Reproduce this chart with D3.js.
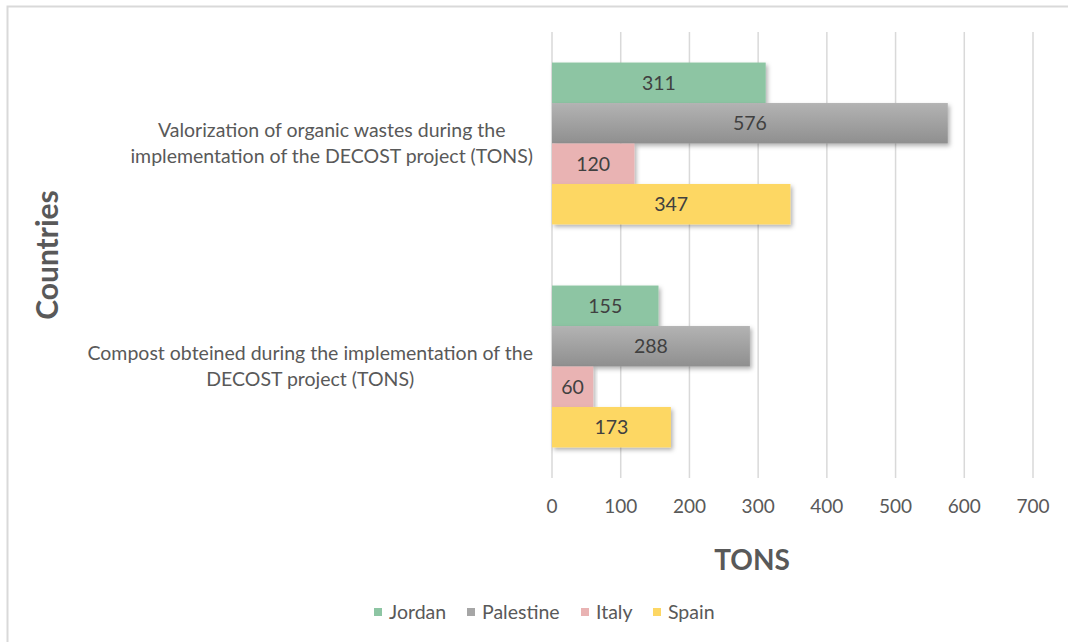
<!DOCTYPE html>
<html>
<head>
<meta charset="utf-8">
<script src="https://cdn.jsdelivr.net/npm/d3@7"></script>
<style>
  html, body { margin: 0; padding: 0; background: #fff; }
  svg { display: block; font-family: "Lato", "Open Sans", sans-serif; }
</style>
</head>
<body>
<svg id="chart" width="1068" height="642"></svg>
<script>
// Categories (top to bottom) with their wrapped label lines
const categories = [
  "Valorization of organic wastes during the implementation of the DECOST project (TONS)",
  "Compost obteined during the implementation of the DECOST project (TONS)"
];
const categoryLines = [
  ["Valorization of organic wastes during the", "implementation of the DECOST project (TONS)"],
  ["Compost obteined during the implementation of the", "DECOST project (TONS)"]
];
const seriesNames = ["Jordan", "Palestine", "Italy", "Spain"];
const jordan    = [311, 155];
const palestine = [576, 288];
const italy     = [120, 60];
const spain     = [347, 173];
const tickValues = [0, 100, 200, 300, 400, 500, 600, 700];

const seriesValues = [jordan, palestine, italy, spain];
const colors = ["#8dc5a3", "url(#grayGrad)", "#e9b3b3", "#fdd764"];
const legendColors = ["#8dc5a3", "#a6a6a6", "#e9b3b3", "#fdd764"];

const svg = d3.select("#chart");
const defs = svg.append("defs");

const shadow = defs.append("filter").attr("id", "shadow")
  .attr("x", "-5%").attr("y", "-20%").attr("width", "115%").attr("height", "150%");
shadow.append("feDropShadow").attr("dx", 2).attr("dy", 2.5)
  .attr("stdDeviation", 2).attr("flood-color", "#000").attr("flood-opacity", 0.3);

const grad = defs.append("linearGradient").attr("id", "grayGrad")
  .attr("x1", 0).attr("y1", 0).attr("x2", 0).attr("y2", 1);
grad.append("stop").attr("offset", "0%").attr("stop-color", "#b3b3b3");
grad.append("stop").attr("offset", "100%").attr("stop-color", "#8f8f8f");

// Outer frame (top and left edges visible)
svg.append("path")
  .attr("d", "M7.5,642 L7.5,6.5 L1068,6.5")
  .attr("fill", "none").attr("stroke", "#d9d9d9").attr("stroke-width", 2);

const plot = { left: 552, right: 1033, top: 32, bottom: 478 };

const x = d3.scaleLinear().domain([0, 700]).range([plot.left, plot.right]);
const y0 = d3.scaleBand().domain(categories).range([plot.top, plot.bottom])
  .paddingInner(0.274).paddingOuter(0.137);
const y1 = d3.scaleBand().domain(seriesNames).range([0, y0.bandwidth()]);

// Vertical gridlines
svg.append("g").selectAll("line").data(tickValues).join("line")
  .attr("x1", d => x(d)).attr("x2", d => x(d))
  .attr("y1", plot.top).attr("y2", plot.bottom)
  .attr("stroke", "#d9d9d9").attr("stroke-width", 1.5);

// Bars
const groups = svg.append("g").selectAll("g").data(categories).join("g")
  .attr("transform", c => `translate(0,${y0(c)})`);

seriesNames.forEach((s, si) => {
  groups.append("rect")
    .attr("x", x(0))
    .attr("y", y1(s))
    .attr("width", (c, ci) => x(seriesValues[si][ci]) - x(0))
    .attr("height", y1.bandwidth())
    .attr("fill", colors[si])
    .attr("filter", "url(#shadow)");
});

// Value labels centred in bars
seriesNames.forEach((s, si) => {
  groups.append("text")
    .attr("x", (c, ci) => (x(0) + x(seriesValues[si][ci])) / 2)
    .attr("y", y1(s) + y1.bandwidth() / 2)
    .attr("dy", "0.35em")
    .attr("text-anchor", "middle")
    .attr("font-size", 19.5)
    .attr("fill", "#404040")
    .text((c, ci) => seriesValues[si][ci]);
});

// Category labels, block right-aligned against the axis, lines centred
const catG = svg.append("g");
categories.forEach((c, ci) => {
  const lines = categoryLines[ci];
  const t = catG.append("text")
    .attr("font-size", 19.5).attr("fill", "#595959").attr("text-anchor", "middle");
  lines.forEach((ln, li) => {
    t.append("tspan").text(ln)
      .attr("y", y0(c) + y0.bandwidth() / 2 + (li - (lines.length - 1) / 2) * 26)
      .attr("dy", "0.35em");
  });
  let maxW = 0;
  t.selectAll("tspan").each(function () { maxW = Math.max(maxW, this.getComputedTextLength()); });
  t.selectAll("tspan").attr("x", 533 - maxW / 2);
});

// X tick labels
svg.append("g").selectAll("text").data(tickValues).join("text")
  .attr("x", d => x(d)).attr("y", 506).attr("dy", "0.35em")
  .attr("text-anchor", "middle").attr("font-size", 19).attr("fill", "#595959")
  .text(d => d);

// Axis titles
svg.append("text").attr("x", 752).attr("y", 560).attr("dy", "0.35em")
  .attr("text-anchor", "middle").attr("font-size", 28).attr("font-weight", "bold")
  .attr("fill", "#595959").text("TONS");

svg.append("text")
  .attr("transform", "translate(47,255) rotate(-90)")
  .attr("dy", "0.35em").attr("text-anchor", "middle")
  .attr("font-size", 30).attr("font-weight", "bold").attr("fill", "#595959")
  .text("Countries");

// Legend
const legendX = [374, 467, 581, 653];
const leg = svg.append("g").selectAll("g").data(seriesNames).join("g")
  .attr("transform", (d, i) => `translate(${legendX[i]},612)`);
leg.append("rect").attr("x", 0).attr("y", -4).attr("width", 8).attr("height", 8)
  .attr("fill", (d, i) => legendColors[i]);
leg.append("text").attr("x", 15).attr("dy", "0.35em")
  .attr("font-size", 19.5).attr("fill", "#595959").text(d => d);
</script>
</body>
</html>
